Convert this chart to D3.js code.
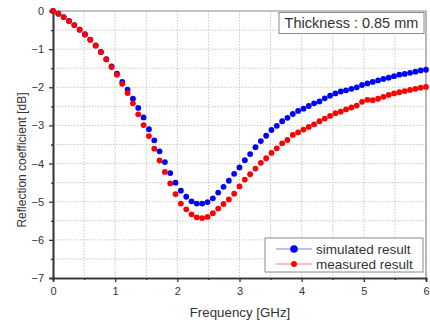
<!DOCTYPE html>
<html>
<head>
<meta charset="utf-8">
<script src="https://cdn.jsdelivr.net/npm/d3@7"></script>
<style>
  body { margin: 0; background: #fff; }
  text { font-family: "Liberation Sans", Arial, sans-serif; }
</style>
</head>
<body>
<script>
// frequency [GHz]
var freq = [0.000, 0.086, 0.171, 0.257, 0.343, 0.429, 0.514, 0.600, 0.686, 0.771,
  0.857, 0.943, 1.029, 1.114, 1.200, 1.286, 1.371, 1.457, 1.543, 1.629,
  1.714, 1.800, 1.886, 1.971, 2.057, 2.143, 2.229, 2.314, 2.400, 2.486,
  2.571, 2.657, 2.743, 2.829, 2.914, 3.000, 3.086, 3.171, 3.257, 3.343,
  3.429, 3.514, 3.600, 3.686, 3.771, 3.857, 3.943, 4.029, 4.114, 4.200,
  4.286, 4.371, 4.457, 4.543, 4.629, 4.714, 4.800, 4.886, 4.971, 5.057,
  5.143, 5.229, 5.314, 5.400, 5.486, 5.571, 5.657, 5.743, 5.829, 5.914, 6.000];

var simulated = [0, -0.07, -0.16, -0.26, -0.37, -0.49, -0.61, -0.75, -0.90, -1.07,
  -1.26, -1.45, -1.64, -1.86, -2.06, -2.30, -2.54, -2.79, -3.10, -3.39,
  -3.68, -3.96, -4.25, -4.50, -4.71, -4.87, -4.99, -5.05, -5.05, -5.01,
  -4.91, -4.76, -4.61, -4.45, -4.27, -4.10, -3.91, -3.75, -3.57, -3.41,
  -3.27, -3.12, -3.01, -2.89, -2.80, -2.70, -2.62, -2.56, -2.49, -2.42,
  -2.37, -2.29, -2.22, -2.16, -2.11, -2.08, -2.04, -2.00, -1.94, -1.90,
  -1.86, -1.82, -1.78, -1.75, -1.71, -1.67, -1.65, -1.62, -1.59, -1.56, -1.54];

var measured = [0, -0.07, -0.16, -0.26, -0.37, -0.49, -0.62, -0.76, -0.91, -1.08,
  -1.27, -1.47, -1.67, -1.91, -2.15, -2.42, -2.71, -2.99, -3.28, -3.61,
  -3.92, -4.22, -4.52, -4.80, -5.05, -5.20, -5.33, -5.41, -5.43, -5.40,
  -5.30, -5.18, -5.06, -4.94, -4.79, -4.60, -4.42, -4.28, -4.13, -3.98,
  -3.86, -3.72, -3.60, -3.47, -3.38, -3.25, -3.18, -3.11, -3.04, -2.97,
  -2.89, -2.82, -2.75, -2.68, -2.64, -2.58, -2.53, -2.48, -2.38, -2.33,
  -2.34, -2.30, -2.25, -2.20, -2.16, -2.13, -2.10, -2.07, -2.04, -2.01, -1.99];

var xTicks = [0, 1, 2, 3, 4, 5, 6];
var yTicks = [0, -1, -2, -3, -4, -5, -6, -7];
var seriesNames = ["simulated result", "measured result"];
var seriesColors = ["#0000ff", "#ff0000"];
var noteText = "Thickness : 0.85 mm";

var W = 430, H = 324;
var margin = {top: 11, right: 4, bottom: 46, left: 53};
var width = W - margin.left - margin.right,
    height = H - margin.top - margin.bottom;

var svg = d3.select("body").append("svg")
    .attr("width", W)
    .attr("height", H);

var g = svg.append("g")
    .attr("transform", "translate(" + margin.left + "," + margin.top + ")");

var x = d3.scaleLinear().domain([0, 6]).range([0, width]);
var y = d3.scaleLinear().domain([-7, 0]).range([height, 0]);

// dotted grid every 0.5
var gridX = d3.range(1, 12).map(function(d) { return d / 2; });
var gridY = d3.range(-13, 0).map(function(d) { return d / 2; });
g.selectAll(".gx").data(gridX).enter().append("line")
    .attr("x1", function(d) { return x(d); })
    .attr("x2", function(d) { return x(d); })
    .attr("y1", 0).attr("y2", height)
    .attr("stroke", "#c8c8c8").attr("stroke-dasharray", "1.5,1.5");
g.selectAll(".gy").data(gridY).enter().append("line")
    .attr("y1", function(d) { return y(d); })
    .attr("y2", function(d) { return y(d); })
    .attr("x1", 0).attr("x2", width)
    .attr("stroke", "#c8c8c8").attr("stroke-dasharray", "1.5,1.5");

// top and right frame
g.append("path")
    .attr("d", "M0,0H" + width + "V" + height)
    .attr("fill", "none").attr("stroke", "#8a8a8a").attr("stroke-width", 1.2);

// axes
var xAxis = g.append("g")
    .attr("transform", "translate(0," + height + ")")
    .call(d3.axisBottom(x).tickValues(xTicks).tickFormat(d3.format("d")).tickSize(4).tickPadding(5));
var xMinor = g.append("g")
    .attr("transform", "translate(0," + height + ")")
    .call(d3.axisBottom(x).tickValues([0.5, 1.5, 2.5, 3.5, 4.5, 5.5]).tickFormat("").tickSize(2));
var yAxis = g.append("g")
    .call(d3.axisLeft(y).tickValues(yTicks).tickFormat(d3.format("d")).tickSize(4).tickPadding(5));
var yMinor = g.append("g")
    .call(d3.axisLeft(y).tickValues([-0.5, -1.5, -2.5, -3.5, -4.5, -5.5, -6.5]).tickFormat("").tickSize(2));

[xAxis, xMinor, yAxis, yMinor].forEach(function(a) {
  a.select(".domain").attr("stroke", "#333").attr("stroke-width", 1.6);
  a.selectAll(".tick line").attr("stroke", "#333").attr("stroke-width", 1.3);
  a.selectAll(".tick text").attr("fill", "#333").style("font-size", "11px")
    .style("font-family", "'Liberation Sans', Arial, sans-serif");
});

// axis titles
svg.append("text")
    .attr("x", 240)
    .attr("y", 317)
    .attr("text-anchor", "middle")
    .attr("fill", "#333")
    .style("font-size", "13.3px")
    .text("Frequency [GHz]");
svg.append("text")
    .attr("transform", "translate(25.5,160) rotate(-90)")
    .attr("text-anchor", "middle")
    .attr("fill", "#333")
    .style("font-size", "12px")
    .text("Reflection coefficient [dB]");

// points
var series = [simulated, measured];
series.forEach(function(vals, k) {
  g.selectAll(".s" + k).data(vals).enter().append("circle")
      .attr("cx", function(d, i) { return x(freq[i]); })
      .attr("cy", function(d) { return y(d); })
      .attr("r", 2.9)
      .attr("fill", seriesColors[k]);
});

// thickness note
g.append("rect")
    .attr("x", 226).attr("y", 1.5)
    .attr("width", 145).attr("height", 21)
    .attr("fill", "#fff").attr("stroke", "#8a8a8a");
g.append("text")
    .attr("x", 226 + 145 / 2).attr("y", 17)
    .attr("text-anchor", "middle")
    .attr("fill", "#333")
    .style("font-size", "14.5px")
    .text(noteText);

// legend
var lg = g.append("g").attr("transform", "translate(212,227)");
lg.append("rect")
    .attr("width", 158).attr("height", 34)
    .attr("fill", "#fff").attr("stroke", "#8a8a8a");
seriesNames.forEach(function(name, k) {
  var row = lg.append("g").attr("transform", "translate(0," + (11 + k * 15) + ")");
  row.append("line")
      .attr("x1", 11).attr("x2", 47)
      .attr("stroke", seriesColors[k]).attr("stroke-opacity", 0.35).attr("stroke-width", 1.3);
  row.append("circle")
      .attr("cx", 29).attr("r", k == 0 ? 3.8 : 3)
      .attr("fill", seriesColors[k]);
  row.append("text")
      .attr("x", 51).attr("y", 4.5)
      .attr("fill", "#333")
      .style("font-size", "13.5px")
      .text(name);
});
</script>
</body>
</html>
